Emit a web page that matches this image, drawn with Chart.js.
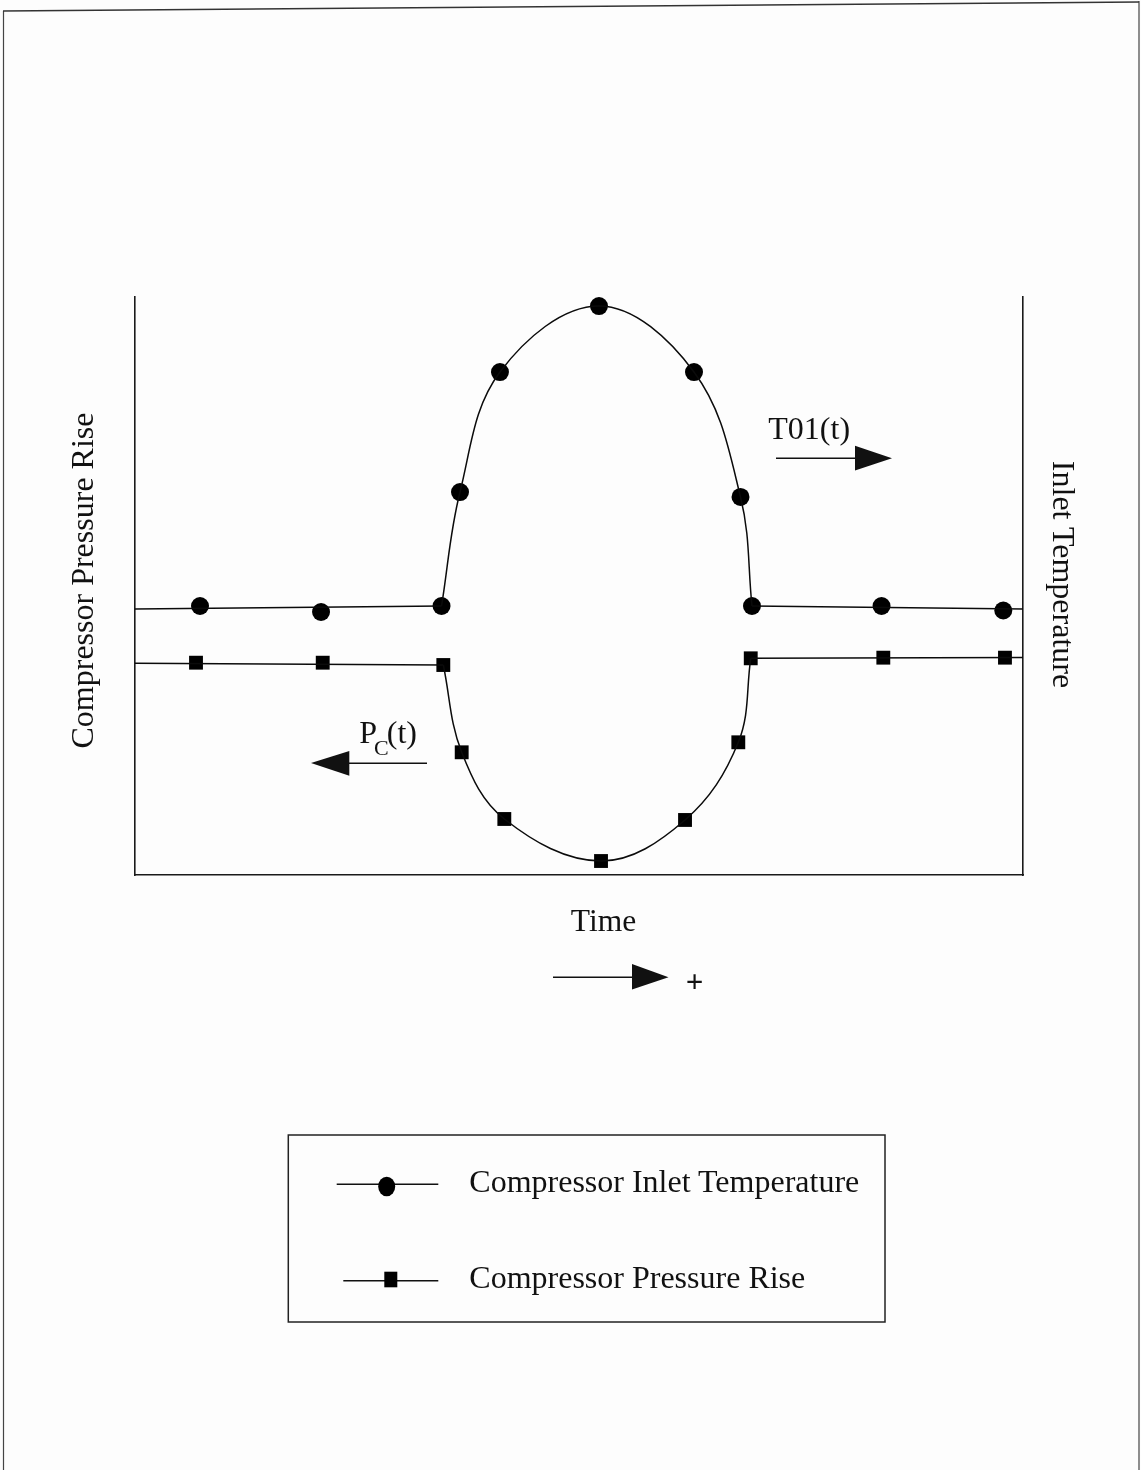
<!DOCTYPE html>
<html>
<head>
<meta charset="utf-8">
<script src="https://cdn.jsdelivr.net/npm/chart.js@4.4.1/dist/chart.umd.min.js"></script>
<style>
  html, body { margin: 0; padding: 0; background: #fdfdfd; }
  #page { position: relative; width: 1141px; height: 1470px; overflow: hidden; }
  #plot { position: absolute; left: 0; top: 0; width: 1141px; height: 1470px; }
  #overlay { position: absolute; left: 0; top: 0; width: 1141px; height: 1470px; pointer-events: none; }
  #overlay text { font-family: "Liberation Serif", "Times New Roman", serif; fill: #111; }
</style>
</head>
<body>
<div id="page">
  <div id="plot"><canvas id="chart"></canvas></div>
  <svg id="overlay" width="1141" height="1470" viewBox="0 0 1141 1470">
    <!-- page frame -->
    <line x1="3.5" y1="11" x2="3.5" y2="1470" stroke="#444" stroke-width="1.2"/>
    <line x1="1139" y1="1" x2="1139" y2="1470" stroke="#444" stroke-width="1.2"/>
    <line x1="3" y1="11" x2="1139" y2="2" stroke="#333" stroke-width="1.4"/>

    <!-- axis titles -->
    <text transform="translate(92.5,580.5) rotate(-90)" text-anchor="middle" font-size="32">Compressor Pressure Rise</text>
    <text transform="translate(1053,574.5) rotate(90)" text-anchor="middle" font-size="32">Inlet Temperature</text>
    <text x="603.5" y="930.5" text-anchor="middle" font-size="31.5">Time</text>

    <!-- direction of time -->
    <line x1="553" y1="977.3" x2="634" y2="977.3" stroke="#111" stroke-width="1.5"/>
    <polygon points="632,964 668.5,977.3 632,989.5" fill="#111"/>
    <text x="694.5" y="992" text-anchor="middle" font-size="31" font-weight="bold">+</text>

    <!-- T01(t) reads on the right axis -->
    <text x="768.3" y="439" font-size="32">T01(t)</text>
    <line x1="776" y1="458.3" x2="857" y2="458.3" stroke="#111" stroke-width="1.5"/>
    <polygon points="855,445.7 892,458.3 855,470.5" fill="#111"/>

    <!-- Pc(t) reads on the left axis -->
    <text x="359.3" y="743" font-size="32">P<tspan font-size="22" dx="-3" dy="12">C</tspan><tspan dy="-12" dx="-2">(t)</tspan></text>
    <line x1="347" y1="763.3" x2="427" y2="763.3" stroke="#111" stroke-width="1.5"/>
    <polygon points="311,763 349.3,751 349.3,775.7" fill="#111"/>

    <!-- legend -->
    <rect x="288.3" y="1135" width="596.7" height="187" fill="none" stroke="#222" stroke-width="1.5"/>
    <line x1="336.7" y1="1184.3" x2="438.3" y2="1184.3" stroke="#111" stroke-width="1.5"/>
    <ellipse cx="386.7" cy="1186.5" rx="8.5" ry="9.8" fill="#000"/>
    <text x="469.3" y="1191.7" font-size="32">Compressor Inlet Temperature</text>
    <line x1="343.3" y1="1280.7" x2="438.3" y2="1280.7" stroke="#111" stroke-width="1.5"/>
    <rect x="384.3" y="1271.7" width="13" height="15.6" fill="#000"/>
    <text x="469.3" y="1288.3" font-size="32">Compressor Pressure Rise</text>
  </svg>
</div>
<script>
// Compressor inlet temperature samples (circle markers)
const tempTime  = [7.32, 20.95, 34.52, 36.60, 41.10, 52.25, 62.95, 68.19, 69.48, 84.07, 97.78];
const tempValue = [46.54, 45.50, 46.54, 66.26, 87.02, 98.44, 87.02, 65.40, 46.54, 46.54, 45.76];

// Compressor pressure rise samples (square markers)
const pressTime  = [6.87, 21.14, 34.72, 36.79, 41.59, 52.48, 61.94, 67.94, 69.34, 84.27, 97.97];
const pressValue = [36.73, 36.73, 36.33, 21.23, 9.69, 2.42, 9.52, 22.96, 37.49, 37.60, 37.60];

// Steady levels of each trace at the start and end of the record
const tempSteady  = [46.0, 46.0];
const pressSteady = [36.63, 37.63];

// Axis extents (arbitrary units, no tick labels)
const timeRange  = [0, 100];
const valueRange = [0, 100];

// Index range of the transient (the pulse) inside each sample list
const pulseStart = 2, pulseEnd = 8;

const pts = (xs, ys, a, b) => xs.slice(a, b + 1).map((x, i) => ({ x, y: ys[a + i] }));

const ink = '#0b0b0b';
const lineBase = {
  showLine: true, pointRadius: 0, borderColor: ink, borderWidth: 1.5,
  backgroundColor: ink, clip: false, fill: false, tension: 0
};
// the transient is a smooth lobe: Bezier spline through the samples
const pulseLine = { tension: 0.37, cubicInterpolationMode: 'default' };

const datasets = [
  // temperature trace: steady, pulse, steady
  Object.assign({}, lineBase, { label: 'T before', data: [{ x: timeRange[0], y: tempSteady[0] }, { x: tempTime[pulseStart], y: tempValue[pulseStart] }] }),
  Object.assign({}, lineBase, pulseLine, { label: 'T pulse', data: pts(tempTime, tempValue, pulseStart, pulseEnd) }),
  Object.assign({}, lineBase, { label: 'T after', data: [{ x: tempTime[pulseEnd], y: tempValue[pulseEnd] }, { x: timeRange[1], y: tempSteady[1] }] }),
  // pressure trace: steady, dip, steady
  Object.assign({}, lineBase, { label: 'P before', data: [{ x: timeRange[0], y: pressSteady[0] }, { x: pressTime[pulseStart], y: pressValue[pulseStart] }] }),
  Object.assign({}, lineBase, pulseLine, { label: 'P pulse', data: pts(pressTime, pressValue, pulseStart, pulseEnd) }),
  Object.assign({}, lineBase, { label: 'P after', data: [{ x: pressTime[pulseEnd], y: pressValue[pulseEnd] }, { x: timeRange[1], y: pressSteady[1] }] }),
  // markers
  {
    label: 'Compressor Inlet Temperature', data: pts(tempTime, tempValue, 0, tempTime.length - 1),
    showLine: false, pointStyle: 'circle', pointRadius: 9, pointBackgroundColor: '#000',
    pointBorderColor: '#000', pointBorderWidth: 0, clip: false
  },
  {
    label: 'Compressor Pressure Rise', data: pts(pressTime, pressValue, 0, pressTime.length - 1),
    showLine: false, pointStyle: 'rect', pointRadius: 9.8, pointBackgroundColor: '#000',
    pointBorderColor: '#000', pointBorderWidth: 0, clip: false
  }
];

const hiddenAxis = (extra) => Object.assign({
  type: 'linear',
  grid: { display: false, drawTicks: false },
  ticks: { display: false },
  border: { display: true, color: '#1a1a1a', width: 1.6 },
  title: { display: false }
}, extra);

new Chart(document.getElementById('chart'), {
  type: 'scatter',
  data: { datasets },
  options: {
    responsive: true,
    maintainAspectRatio: false,
    animation: false,
    events: [],
    layout: { padding: { left: 135, top: 297, right: 118, bottom: 595 } },
    plugins: { legend: { display: false }, tooltip: { enabled: false } },
    scales: {
      x: hiddenAxis({ position: 'bottom', min: timeRange[0], max: timeRange[1] }),
      y: hiddenAxis({ position: 'left', min: valueRange[0], max: valueRange[1] }),
      y2: hiddenAxis({ position: 'right', min: valueRange[0], max: valueRange[1] })
    }
  }
});
</script>
</body>
</html>
